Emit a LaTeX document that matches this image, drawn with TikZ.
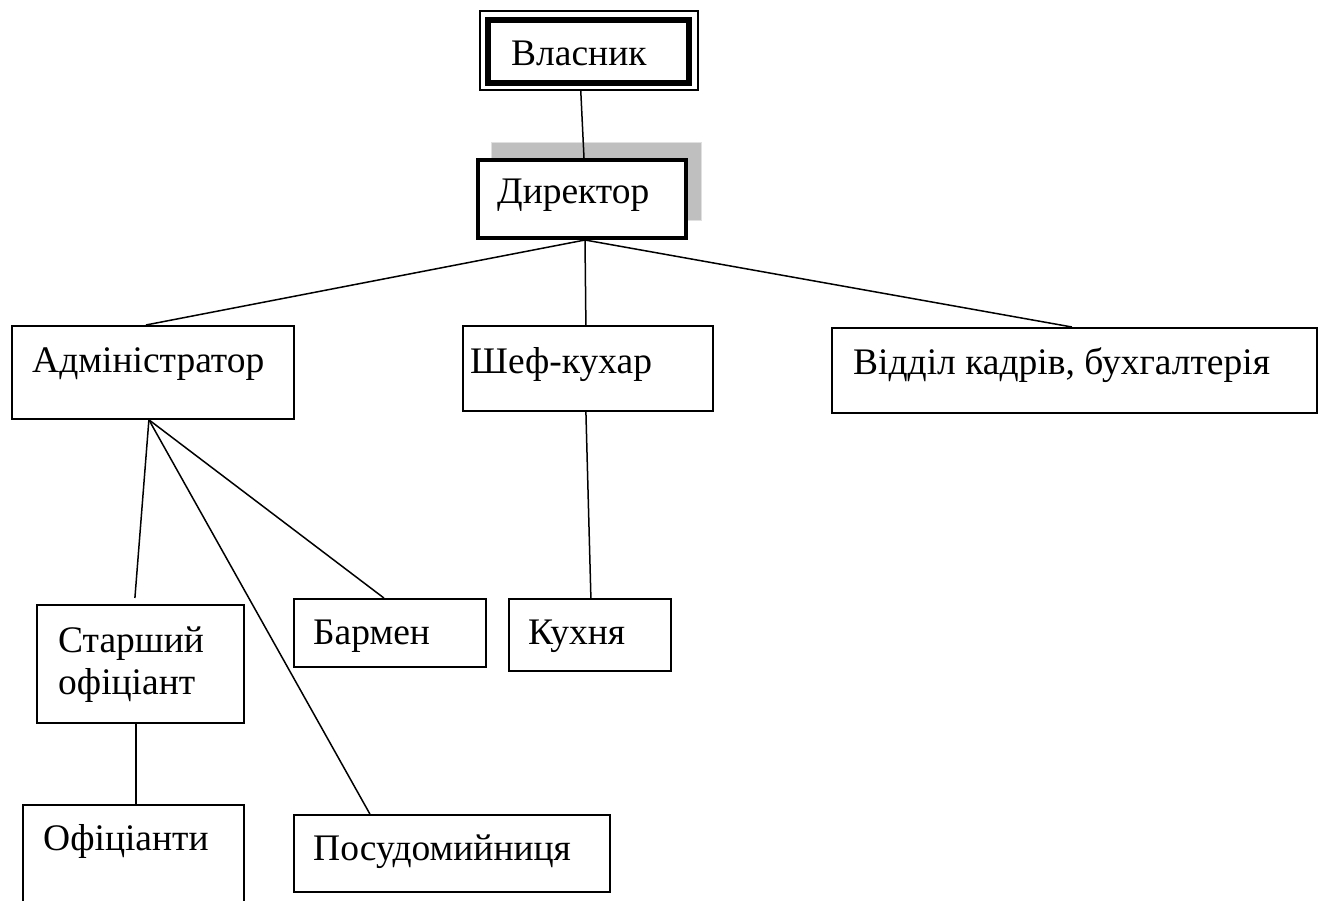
\documentclass[tikz,border=0pt]{standalone}
\usepackage{fontspec}
\setmainfont{Liberation Serif}
\newfontfamily\lserif{Liberation Serif}
\usetikzlibrary{calc}
\begin{document}
\begin{tikzpicture}[x=1pt,y=-1pt,
  box/.style={draw, line width=1.8pt, anchor=north west, inner sep=0pt, fill=white},
  txt/.style={anchor=base west, inner sep=0pt, font=\lserif\fontsize{37.5}{45}\selectfont},
  conn/.style={line width=1.5pt}]
\useasboundingbox (0,0) rectangle (1322,900);
\clip (0,0) rectangle (1322,900);
% shadow of director
\node[box, draw=black!12, line width=1pt, fill=black!25, minimum width=210pt, minimum height=78pt] (dirsh) at (491,142) {};
% boxes
\node[box, line width=1.5pt, minimum width=218pt, minimum height=79pt] (vl) at (479,10) {};
\draw[line width=6pt] ($(vl.north west)+(9,10)$) rectangle ($(vl.south east)+(-10,-8)$);
\node[box, line width=4pt, minimum width=208pt, minimum height=78pt] (dir) at (476,158) {};
\node[box, minimum width=282pt, minimum height=93pt] (adm) at (11,325) {};
\node[box, minimum width=250pt, minimum height=85pt] (shef) at (462,325) {};
\node[box, minimum width=485pt, minimum height=85pt] (vid) at (831,327) {};
\node[box, minimum width=207pt, minimum height=118pt] (star) at (36,604) {};
\node[box, minimum width=221pt, minimum height=130pt] (ofi) at (22,804) {};
\node[box, minimum width=192pt, minimum height=68pt] (barm) at (293,598) {};
\node[box, minimum width=162pt, minimum height=72pt] (kux) at (508,598) {};
\node[box, minimum width=316pt, minimum height=77pt] (pos) at (293,814) {};
% texts
\node[txt] (tvl) at (511,65) {Власник};
\node[txt] (tdir) at (497,203) {Директор};
\node[txt] (tadm) at (32,372) {Адміністратор};
\node[txt] (tshef) at (470,373) {Шеф-кухар};
\node[txt] (tvid) at (853,374) {Відділ кадрів, бухгалтерія};
\node[txt] (tstar1) at (58,652) {Старший};
\node[txt] (tstar2) at (58,694) {офіціант};
\node[txt] (tofi) at (43,850) {Офіціанти};
\node[txt] (tbarm) at (313,644) {Бармен};
\node[txt] (tkux) at (528,644) {Кухня};
\node[txt] (tpos) at (313,860) {Посудомийниця};
% connectors
\coordinate (dhub) at ($(dir.south)+(3,0)$);
\coordinate (ahub) at ($(adm.south)+(-4,0)$);
\draw[conn] ($(vl.south)+(-8,0)$) -- ($(dir.north)+(2,0)$);
\draw[conn] (dhub) -- ($(adm.north)+(-7,0)$);
\draw[conn] (dhub) -- ($(shef.north)+(-2,0)$);
\draw[conn] (dhub) -- ($(vid.north)+(-2.5,0)$);
\draw[conn] (ahub) -- ($(star.north)+(-5.5,-6)$);
\draw[conn] (ahub) -- ($(barm.north)+(-6,0)$);
\draw[conn] (ahub) -- ($(pos.north)+(-82,0)$);
\draw[conn] ($(shef.south)+(-2,0)$) -- ($(kux.north)+(1,0)$);
\draw[conn] ($(star.south)+(-4.5,0)$) -- ($(ofi.north)+(2.5,0)$);
\end{tikzpicture}
\end{document}
